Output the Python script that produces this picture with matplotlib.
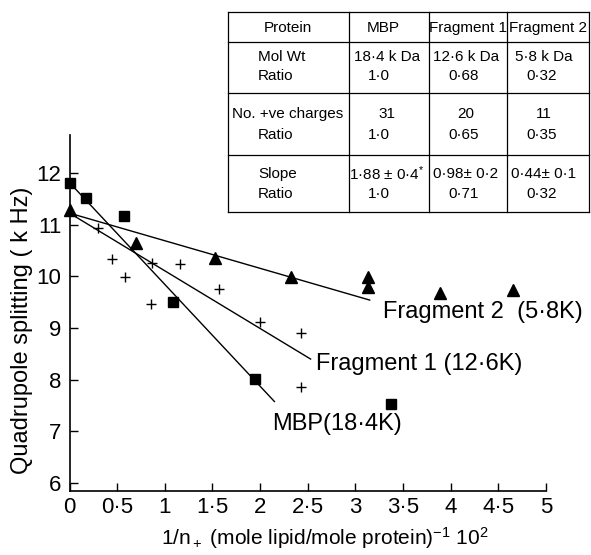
import matplotlib
matplotlib.use("Agg")
import matplotlib.pyplot as plt
from matplotlib.lines import Line2D

plt.rcParams['font.family'] = ['Liberation Sans', 'DejaVu Sans']
plt.rcParams['mathtext.fontset'] = 'custom'
plt.rcParams['mathtext.rm'] = 'Liberation Sans'
plt.rcParams['mathtext.it'] = 'Liberation Sans'

# MBP (squares)
mbp_x = [0.0, 0.17, 0.57, 1.09, 1.95, 3.37]
mbp_y = [11.81, 11.51, 11.16, 9.50, 8.02, 7.53]
# Fragment 1 (pluses)
f1_x = [0.30, 0.45, 0.58, 0.87, 0.86, 1.16, 1.57, 2.00, 2.43, 2.43]
f1_y = [10.94, 10.33, 9.99, 10.26, 9.47, 10.23, 9.75, 9.12, 8.90, 7.86]
# Fragment 2 (triangles)
f2_x = [0.0, 0.70, 1.53, 2.32, 3.13, 3.13, 3.89, 4.65]
f2_y = [11.28, 10.64, 10.35, 9.99, 9.99, 9.80, 9.67, 9.74]

# fitted lines (end points)
mbp_fit_x = [0.0, 2.15]
mbp_fit_y = [11.81, 7.58]
f1_fit_x = [0.0, 2.53]
f1_fit_y = [11.22, 8.40]
f2_fit_x = [0.0, 3.15]
f2_fit_y = [11.22, 9.54]

xticks = [0, 0.5, 1, 1.5, 2, 2.5, 3, 3.5, 4, 4.5, 5]
xtick_labels = ['0', '0·5', '1', '1·5', '2', '2·5', '3', '3·5', '4', '4·5', '5']
yticks = [6, 7, 8, 9, 10, 11, 12]

table_header = ['Protein', 'MBP', 'Fragment 1', 'Fragment 2']
row_names = [('Mol Wt', 'Ratio'), ('No. +ve charges', 'Ratio'), ('Slope', 'Ratio')]
mbp_vals = [('18·4 k Da', '1·0'), ('31', '1·0'), ('1·88 ± 0·4$^{*}$', '1·0')]
frag1_vals = [('12·6 k Da', '0·68'), ('20', '0·65'), ('0·98± 0·2', '0·71')]
frag2_vals = [('5·8 k Da', '0·32'), ('11', '0·35'), ('0·44± 0·1', '0·32')]

W, H = 591, 555
fig = plt.figure(figsize=(W / 100, H / 100), dpi=100)
ax = fig.add_axes([69.5 / W, 1 - 491 / H, (546 - 69.5) / W, (491 - 135) / H])

ax.plot(mbp_fit_x, mbp_fit_y, 'k-', lw=1.0)
ax.plot(f1_fit_x, f1_fit_y, 'k-', lw=1.0)
ax.plot(f2_fit_x, f2_fit_y, 'k-', lw=1.0)
ax.plot(mbp_x, mbp_y, 'ks', ms=7.5, ls='none', clip_on=False)
ax.plot(f1_x, f1_y, 'k+', ms=7, mew=1.0, ls='none')
ax.plot(f2_x, f2_y, 'k^', ms=8, ls='none', clip_on=False)

ax.set_xlim(0, 5)
ax.set_ylim(5.85, 12.73)
ax.set_xticks(xticks)
ax.set_xticklabels(xtick_labels)
ax.set_yticks(yticks)
for s in ['top', 'right']:
    ax.spines[s].set_visible(False)
ax.spines['left'].set_linewidth(1.2)
ax.spines['bottom'].set_linewidth(1.2)
ax.tick_params(direction='in', length=6, width=1, labelsize=16)
ax.tick_params(axis='y', pad=6)
ax.tick_params(axis='x', pad=4)

ax.text(3.29, 9.195, 'Fragment 2  (5·8K)', fontsize=17, va='baseline')
ax.text(2.59, 8.19, 'Fragment 1 (12·6K)', fontsize=17, va='baseline')
ax.text(2.125, 7.03, 'MBP(18·4K)', fontsize=17, va='baseline')

fig.text(22 / W, 1 - 330 / H, 'Quadrupole splitting ( k Hz)', rotation=90,
         fontsize=17, ha='center', va='center')
fig.text(325 / W, 1 - 538 / H,
         r'1/n$_+$ (mole lipid/mole protein)$^{-1}$ 10$^2$',
         fontsize=15, ha='center', va='center')

# table
tx = [227.7, 349, 429.3, 506.7, 589]
ty = [11.7, 42, 93.3, 155, 211.7]
for y in ty:
    fig.add_artist(Line2D([tx[0] / W, tx[-1] / W], [1 - y / H, 1 - y / H],
                          color='k', lw=0.9))
for x in tx:
    fig.add_artist(Line2D([x / W, x / W], [1 - ty[0] / H, 1 - ty[-1] / H],
                          color='k', lw=0.9))

fs = 11
head_cx = [288, 383, 468, 548]
for i, h in enumerate(table_header):
    fig.text(head_cx[i] / W, 1 - 28 / H, h, fontsize=fs, ha='center', va='center')

line_y = [(57, 76), (114, 135), (174, 194)]
for r, (a, b) in enumerate(row_names):
    y1, y2 = line_y[r]
    if r == 1:
        fig.text(288 / W, 1 - y1 / H, a, fontsize=fs, ha='center', va='center')
    else:
        fig.text(258 / W, 1 - y1 / H, a, fontsize=fs, ha='left', va='center')
    fig.text(258 / W, 1 - y2 / H, b, fontsize=fs, ha='left', va='center')

val_cx = [(387, 379), (466, 464), (544, 542)]
for c, vals in enumerate([mbp_vals, frag1_vals, frag2_vals]):
    for r, (a, b) in enumerate(vals):
        y1, y2 = line_y[r]
        fig.text(val_cx[c][0] / W, 1 - y1 / H, a, fontsize=fs, ha='center', va='center')
        fig.text(val_cx[c][1] / W, 1 - y2 / H, b, fontsize=fs, ha='center', va='center')

fig.savefig('out.png', dpi=100)
